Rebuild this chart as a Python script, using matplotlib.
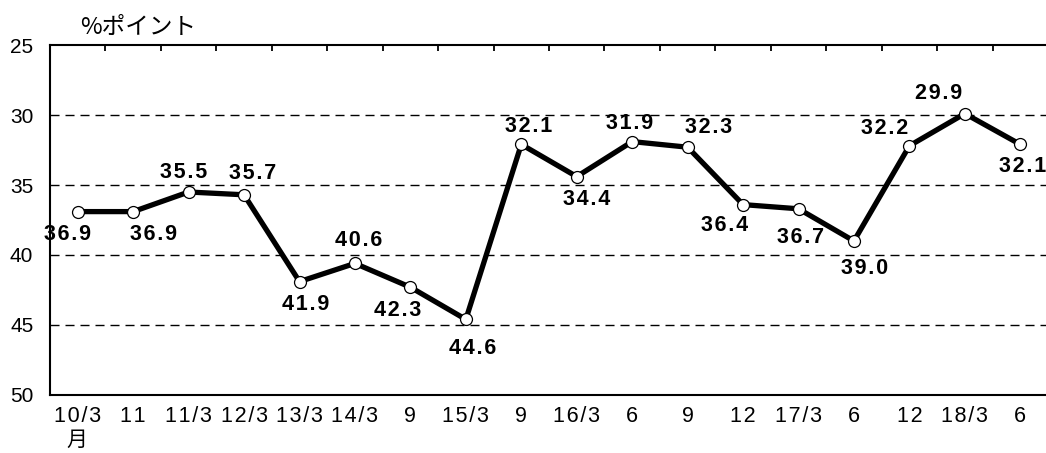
import matplotlib
matplotlib.use("Agg")
import matplotlib.pyplot as plt
from matplotlib.ticker import FixedLocator

categories = ['10/3', '11', '11/3', '12/3', '13/3', '14/3', '9', '15/3', '9',
              '16/3', '6', '9', '12', '17/3', '6', '12', '18/3', '6']
values = [36.9, 36.9, 35.5, 35.7, 41.9, 40.6, 42.3, 44.6, 32.1,
          34.4, 31.9, 32.3, 36.4, 36.7, 39.0, 32.2, 29.9, 32.1]
# label offsets in pixels (dx right, dy down)
label_offsets = [(-10, 23), (20, 23), (-5, -20), (9, -21), (6, 23), (4, -23),
                 (-13, 23), (7, 29), (7, -18), (10, 23), (-3, -18), (21, -20),
                 (-18, 21), (2, 29), (11, 27), (-25, -17), (-26, -20), (2, 22)]
y_unit = '%ポイント'
x_unit = '月'

HS = '\u200a'
def spaced(s):
    return HS.join(list(s))

fam = ['Liberation Sans', 'DejaVu Sans']
cjk = ['Noto Sans CJK JP', 'Liberation Sans']

W, H = 1046, 453
fig = plt.figure(figsize=(W / 100, H / 100), dpi=100)
ax = fig.add_axes([50 / W, (H - 395) / H, (1048 - 50) / W, 350 / H])

x = list(range(len(values)))
ax.plot(x, values, color='black', lw=3.8, solid_joinstyle='miter', zorder=3)
ax.plot(x, values, 'o', ms=8.6, mfc='white', mec='black', mew=0.9, zorder=4)

for xi, v, (dx, dy) in zip(x, values, label_offsets):
    ax.annotate(spaced(f'{v:.1f}'), (xi, v), xytext=(dx, -dy), textcoords='offset pixels',
                ha='center', va='center', fontsize=15.5, fontweight='bold',
                family=fam, zorder=5)

ax.set_xlim(-0.5, len(values) - 0.5)
ax.set_ylim(50, 25)
ax.set_yticks([25, 30, 35, 40, 45, 50])
ax.set_yticklabels([str(t) for t in [25, 30, 35, 40, 45, 50]], family=fam, fontsize=15)
for g in [30, 35, 40, 45]:
    ax.axhline(g, color='black', lw=1.0, dashes=(6.5, 4.3), zorder=1)

ax.set_xticks(x)
ax.set_xticklabels([spaced(c) for c in categories], family=fam, fontsize=15.5)
ax.xaxis.set_minor_locator(FixedLocator([i + 0.5 for i in range(len(values) - 1)]))
ax.tick_params(axis='x', which='major', length=0, pad=8)
ax.tick_params(axis='y', which='major', length=0, pad=12)
ax.tick_params(axis='x', which='minor', top=True, bottom=False, direction='in',
               length=4, width=1.3)
for s in ax.spines.values():
    s.set_linewidth(1.5)

fig.text(80 / W, 1 - 27 / H, y_unit, family=cjk, fontsize=17, ha='left', va='center')
fig.text(77 / W, 1 - 440 / H, x_unit, family=cjk, fontsize=15, ha='center', va='center')

fig.savefig('out.png', dpi=100)
